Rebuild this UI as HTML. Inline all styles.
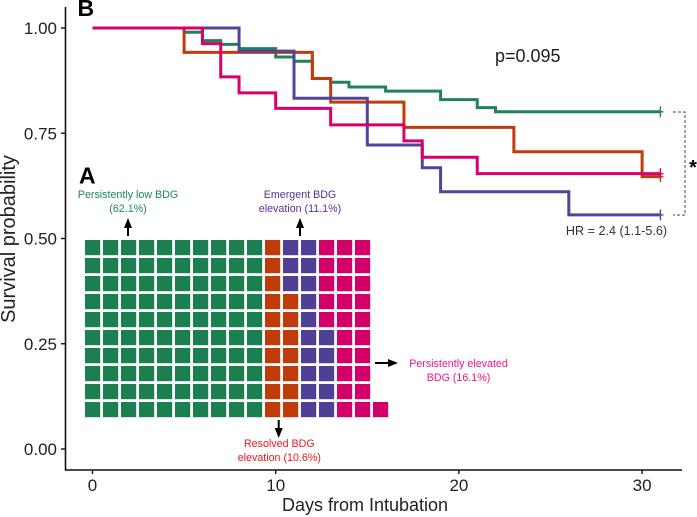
<!DOCTYPE html>
<html>
<head>
<meta charset="utf-8">
<style>
html,body{margin:0;padding:0;background:#fff;}
#chart{display:block;font-family:"Liberation Sans",sans-serif;}
</style>
</head>
<body>
<svg id="chart" width="697" height="517" viewBox="0 0 697 517" xmlns="http://www.w3.org/2000/svg">
  <g id="axes"></g>
  <g id="curves"></g>
  <g id="waffle"></g>
  <text x="77.5" y="16" font-size="23" font-weight="bold" fill="#000">B</text>
  <text x="79" y="183.5" font-size="23" font-weight="bold" fill="#000">A</text>
  <text x="495" y="62" font-size="18" fill="#222">p=0.095</text>
  <text x="616.5" y="235" font-size="12.6" text-anchor="middle" fill="#333">HR = 2.4 (1.1-5.6)</text>
  <path d="M673 112H685V215H673" fill="none" stroke="#444" stroke-width="1" stroke-dasharray="3 2"/>
  <text x="693" y="174" font-size="20" font-weight="bold" text-anchor="middle" fill="#000">*</text>
  <text font-size="10.7" text-anchor="middle" fill="#1b8a5a"><tspan x="128" y="198">Persistently low BDG</tspan><tspan x="128" y="212">(62.1%)</tspan></text>
  <text font-size="10.7" text-anchor="middle" fill="#5b2d9e"><tspan x="300" y="198">Emergent BDG</tspan><tspan x="300" y="212">elevation (11.1%)</tspan></text>
  <text font-size="10.7" text-anchor="middle" fill="#f5141e"><tspan x="279.3" y="447">Resolved BDG</tspan><tspan x="279.3" y="461">elevation (10.6%)</tspan></text>
  <text font-size="10.7" text-anchor="middle" fill="#f0148c"><tspan x="458.5" y="367">Persistently elevated</tspan><tspan x="458.5" y="381">BDG (16.1%)</tspan></text>
  <g fill="#000" stroke="#000">
    <path d="M128 236V225" stroke-width="2" fill="none"/>
    <path d="M128 218L124 228H132Z" stroke="none"/>
    <path d="M300 236V225" stroke-width="2" fill="none"/>
    <path d="M300 218L296 228H304Z" stroke="none"/>
    <path d="M278.7 420V431" stroke-width="2" fill="none"/>
    <path d="M278.7 438L274.7 428H282.7Z" stroke="none"/>
    <path d="M375 363H390" stroke-width="2" fill="none"/>
    <path d="M398 363L388 359V367Z" stroke="none"/>
  </g>
</svg>
<script>
// Axis tick labels
const xTicks = [0, 10, 20, 30];
const yTicks = [0, 0.25, 0.5, 0.75, 1];

// Survival series: step days and survival values
const greenDays = [0, 5, 6, 7, 8, 10, 11, 12, 13, 14, 16, 19, 21, 22, 31];
const greenSurv = [1, 0.990, 0.970, 0.961, 0.951, 0.931, 0.921, 0.880, 0.871, 0.860, 0.850, 0.830, 0.811, 0.801, 0.801];
const orangeDays = [0, 5, 12, 13, 17, 23, 30, 31];
const orangeSurv = [1, 0.942, 0.880, 0.824, 0.764, 0.706, 0.647, 0.647];
const purpleDays = [0, 8, 11, 15, 18, 19, 26, 31];
const purpleSurv = [1, 0.945, 0.833, 0.722, 0.668, 0.611, 0.556, 0.556];
const magentaDays = [0, 6, 7, 8, 10, 13, 17, 18, 21, 31];
const magentaSurv = [1, 0.963, 0.884, 0.846, 0.809, 0.770, 0.732, 0.693, 0.654, 0.654];

// Waffle: cells per column, listed as [group index, count]
const waffleGroups = ['low', 'resolved', 'emergent', 'elevated'];
const waffleColumns = [
  [[0,10]],[[0,10]],[[0,10]],[[0,10]],[[0,10]],[[0,10]],[[0,10]],[[0,10]],[[0,10]],[[0,10]],
  [[1,10]],
  [[2,3],[1,7]],
  [[2,10]],
  [[3,5],[2,5]],
  [[3,10]],
  [[3,10]],
  [[3,1]]
];

const NS = 'http://www.w3.org/2000/svg';
const X = d => 92.5 + d * 18.32;
const Y = s => 449 - s * 421;
function mk(tag, attrs, parent) {
  const el = document.createElementNS(NS, tag);
  for (const k in attrs) el.setAttribute(k, attrs[k]);
  parent.appendChild(el);
  return el;
}

const axes = document.getElementById('axes');
const yAxis = mk('path', {d: 'M65.5 7V470.5', stroke: '#111', 'stroke-width': 1.6, fill: 'none'}, axes);


const xAxis = mk('path', {d: 'M65 470H682', stroke: '#111', 'stroke-width': 1.6, fill: 'none'}, axes);



xTicks.forEach(t => {
  const tick = mk('line', {x1: X(t), x2: X(t), y1: 470, y2: 474, stroke: '#111', 'stroke-width': 1.4}, axes);
  
  
  const lab = mk('text', {x: X(t), y: 491, 'font-size': 17, 'text-anchor': 'middle', fill: '#222'}, axes);
  
  
  lab.textContent = String(t);
});
yTicks.forEach(t => {
  const tick = mk('line', {x1: 61, x2: 65, y1: Y(t), y2: Y(t), stroke: '#111', 'stroke-width': 1.4}, axes);
  
  
  const lab = mk('text', {x: 57, y: Y(t) + 6, 'font-size': 17, 'text-anchor': 'end', fill: '#222'}, axes);
  
  
  lab.textContent = t.toFixed(2);
});
const xTitle = mk('text', {x: 365, y: 511, 'font-size': 18, 'text-anchor': 'middle', fill: '#222'}, axes);


xTitle.textContent = 'Days from Intubation';
const yTitle = mk('text', {x: 0, y: 0, 'font-size': 20, 'text-anchor': 'middle', fill: '#222', transform: 'translate(15 239) rotate(-90)'}, axes);


yTitle.textContent = 'Survival probability';

function stepPath(days, surv) {
  let d = 'M' + X(days[0]) + ' ' + Y(surv[0]);
  for (let i = 1; i < days.length; i++) {
    d += 'H' + X(days[i]) + 'V' + Y(surv[i]);
  }
  return d;
}
const curves = document.getElementById('curves');
function drawCurve(days, surv, color) {
  const line = mk('path', {d: stepPath(days, surv), fill: 'none', stroke: color, 'stroke-width': 3, 'stroke-linejoin': 'miter'}, curves);
  
  
  const last = days.length - 1;
  const cx = X(days[last]), cy = Y(surv[last]);
  const cens = mk('path', {d: 'M' + cx + ' ' + (cy - 5.5) + 'V' + (cy + 5.5) + 'M' + (cx - 3) + ' ' + cy + 'H' + (cx + 3), fill: 'none', stroke: color, 'stroke-width': 1.4}, curves);
  
  
}
drawCurve(greenDays, greenSurv, '#1f8259');
drawCurve(orangeDays, orangeSurv, '#c33b0b');
drawCurve(purpleDays, purpleSurv, '#544399');
drawCurve(magentaDays, magentaSurv, '#d9006e');

const waffleColors = {low: '#1c7f52', resolved: '#c03a0a', emergent: '#4f4095', elevated: '#d3006a'};
const waffle = document.getElementById('waffle');
waffleColumns.forEach((col, c) => {
  // Columns are stacked top to bottom; short columns sit against the bottom row
  const total = col.reduce((a, seg) => a + seg[1], 0);
  let row = 10 - total;
  col.forEach(seg => {
    for (let i = 0; i < seg[1]; i++) {
      const cell = mk('rect', {x: 85 + c * 18, y: 240 + row * 18, width: 15.2, height: 15.2, fill: waffleColors[waffleGroups[seg[0]]]}, waffle);
      
      
      row++;
    }
  });
});
</script>
</body>
</html>
